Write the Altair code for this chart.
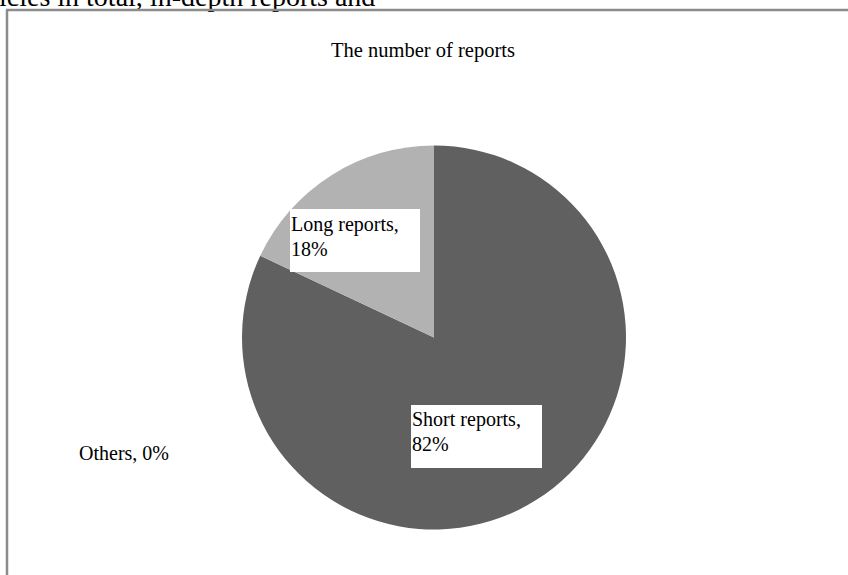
import altair as alt
import pandas as pd

# ---- data ----
categories = ["Short reports", "Long reports", "Others"]
shares = [82, 18, 0]
slice_colors = ["#606060", "#b2b2b2", "#ffffff"]
title_text = "The number of reports"
top_text = "icles in total, in-depth reports and"

df = pd.DataFrame({
    "category": categories,
    "share": shares,
    "order": list(range(len(categories))),
})
df["label"] = [f"{c},\n{s}%" if s > 0 else f"{c}, {s}%" for c, s in zip(categories, shares)]

# ---- styling / placement (not data) ----
FONT = "Liberation Serif"
CX, CY, R = 434, 337.5, 192
LABEL_BOX = {  # x1, y1, x2, y2 of white label boxes; text x, baseline y
    "Short reports": dict(box=(411, 405, 542, 468), tx=412, ty=426),
    "Long reports": dict(box=(290, 209, 420, 272), tx=291, ty=231),
    "Others": dict(box=None, tx=79, ty=460),
}

pie = alt.Chart(df).mark_arc(outerRadius=R, strokeWidth=0).encode(
    theta=alt.Theta("share:Q", stack=True),
    color=alt.Color("category:N", scale=alt.Scale(domain=categories, range=slice_colors), legend=None),
    order=alt.Order("order:Q"),
    x=alt.value(CX),
    y=alt.value(CY),
)

layers = [pie]
for cat in categories:
    p = LABEL_BOX[cat]
    sub = alt.Chart(df).transform_filter(alt.datum.category == cat)
    if p["box"] is not None:
        x1, y1, x2, y2 = p["box"]
        layers.append(sub.mark_rect(color="white").encode(
            x=alt.value(x1), x2=alt.value(x2), y=alt.value(y1), y2=alt.value(y2)))
    layers.append(sub.mark_text(
        font=FONT, fontSize=20, align="left", baseline="alphabetic",
        lineBreak="\n", lineHeight=24.5, color="black",
    ).encode(text="label:N", x=alt.value(p["tx"]), y=alt.value(p["ty"])))

title = alt.Chart(pd.DataFrame({"t": [title_text]})).mark_text(
    font=FONT, fontSize=20.5, align="center", baseline="alphabetic", color="black"
).encode(text="t:N", x=alt.value(423), y=alt.value(57))

top = alt.Chart(pd.DataFrame({"t": [top_text]})).mark_text(
    font=FONT, fontSize=28, align="left", baseline="alphabetic", color="black"
).encode(text="t:N", x=alt.value(-1), y=alt.value(6))

frame_left = alt.Chart(pd.DataFrame({"a": [0]})).mark_rule(color="#8c8c8c", strokeWidth=2.5).encode(
    x=alt.value(7), y=alt.value(10), y2=alt.value(575))
frame_top = alt.Chart(pd.DataFrame({"a": [0]})).mark_rule(color="#8c8c8c", strokeWidth=2.5).encode(
    x=alt.value(6), x2=alt.value(848), y=alt.value(10))

chart = alt.layer(*layers, title, top, frame_left, frame_top).properties(
    width=848, height=575, autosize=alt.AutoSizeParams(type="none"), padding=0,
    background="white",
).configure_view(stroke=None)

chart.save("out.html", embed_options={"renderer": "svg", "actions": False})
